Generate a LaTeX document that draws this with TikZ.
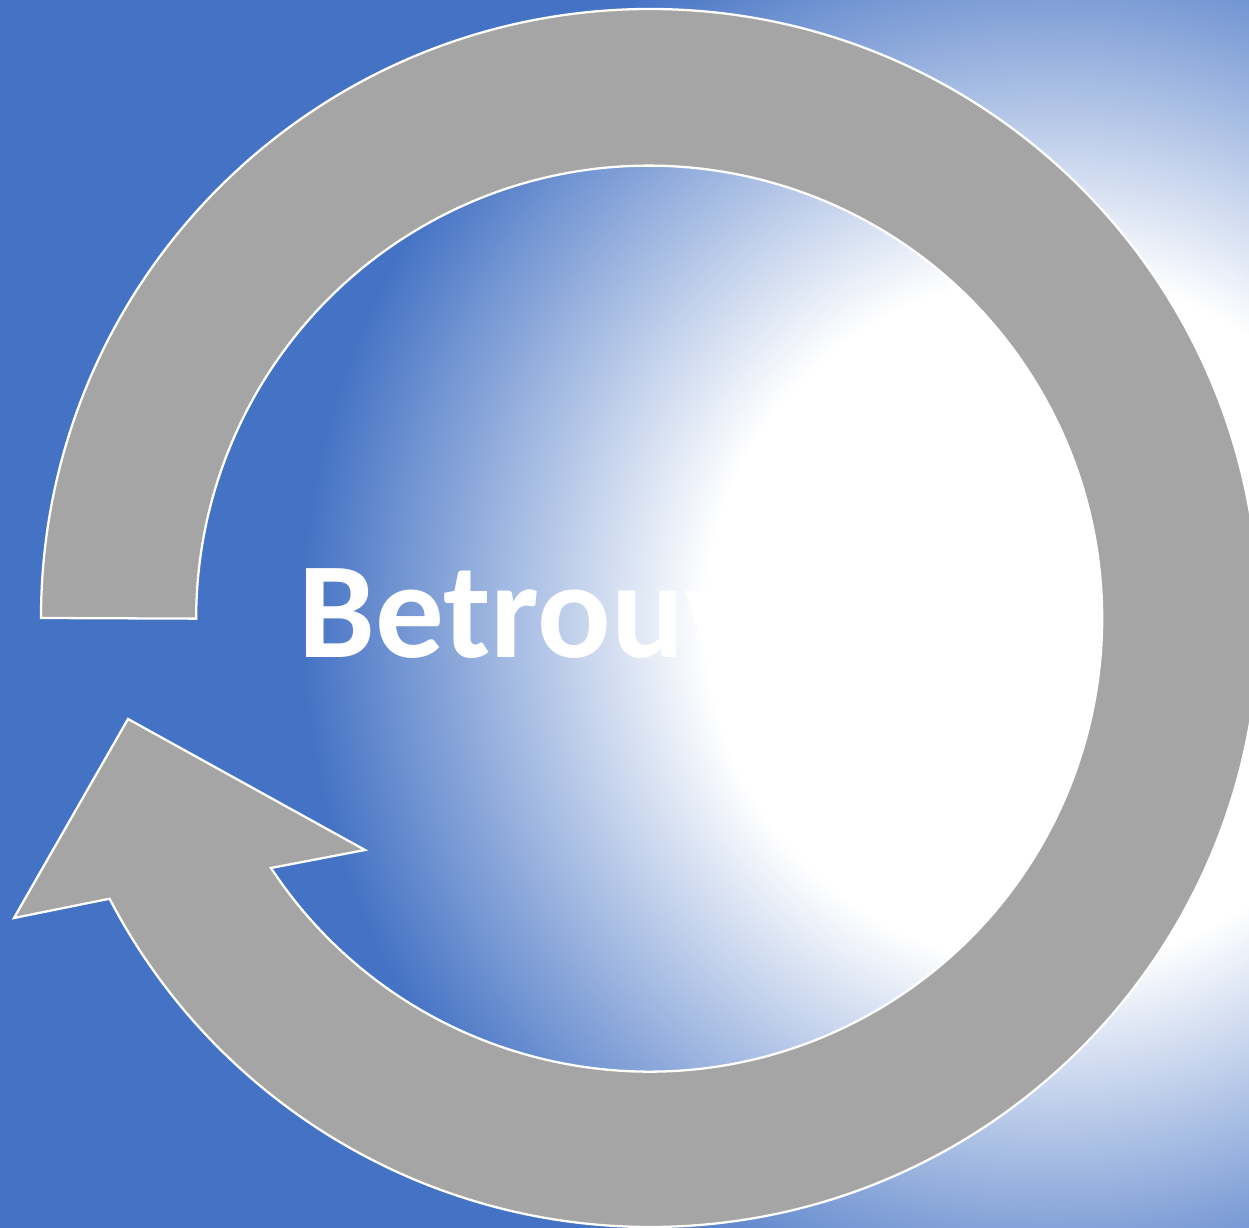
\documentclass[tikz,border=0pt]{standalone}
\usepackage{fontspec}
\newfontfamily\carlito{Carlito}
\definecolor{bgblue}{HTML}{4472C4}
\definecolor{ringgray}{HTML}{A5A5A5}
\pgfdeclareradialshading{bgshade}{\pgfpoint{0cm}{0cm}}{color(0cm)=(white); color(6.9cm)=(white); color(15cm)=(bgblue); color(25cm)=(bgblue)}
\tikzset{
  ring/.style={fill=ringgray, draw=white, line width=1.3pt, line join=miter},
  title/.style={font=\carlito\bfseries\fontsize{78pt}{92pt}\selectfont, text=white, anchor=base west, inner sep=0pt}
}
\begin{document}
\begin{tikzpicture}[x=0.02cm, y=0.02cm]
\useasboundingbox (0,0) rectangle (1249,1228);
\begin{scope}
\clip (0,0) rectangle (1249,1228);
\fill[bgblue] (0,0) rectangle (1249,1228);
\node[overlay, inner sep=0pt, outer sep=0pt] (glow) at (1050,608) {\pgfuseshading{bgshade}};
\node[title] (title) at (298,570) {Betrouwbaar};
\draw[ring, overlay] (41,610) arc[start angle=180, end angle=-152.55, radius=609]
  -- (14,310) -- (128,509) -- (365,378) -- (271,360)
  arc[start angle=-146.6, end angle=180, radius=453] -- cycle;
\end{scope}
\end{tikzpicture}
\end{document}
